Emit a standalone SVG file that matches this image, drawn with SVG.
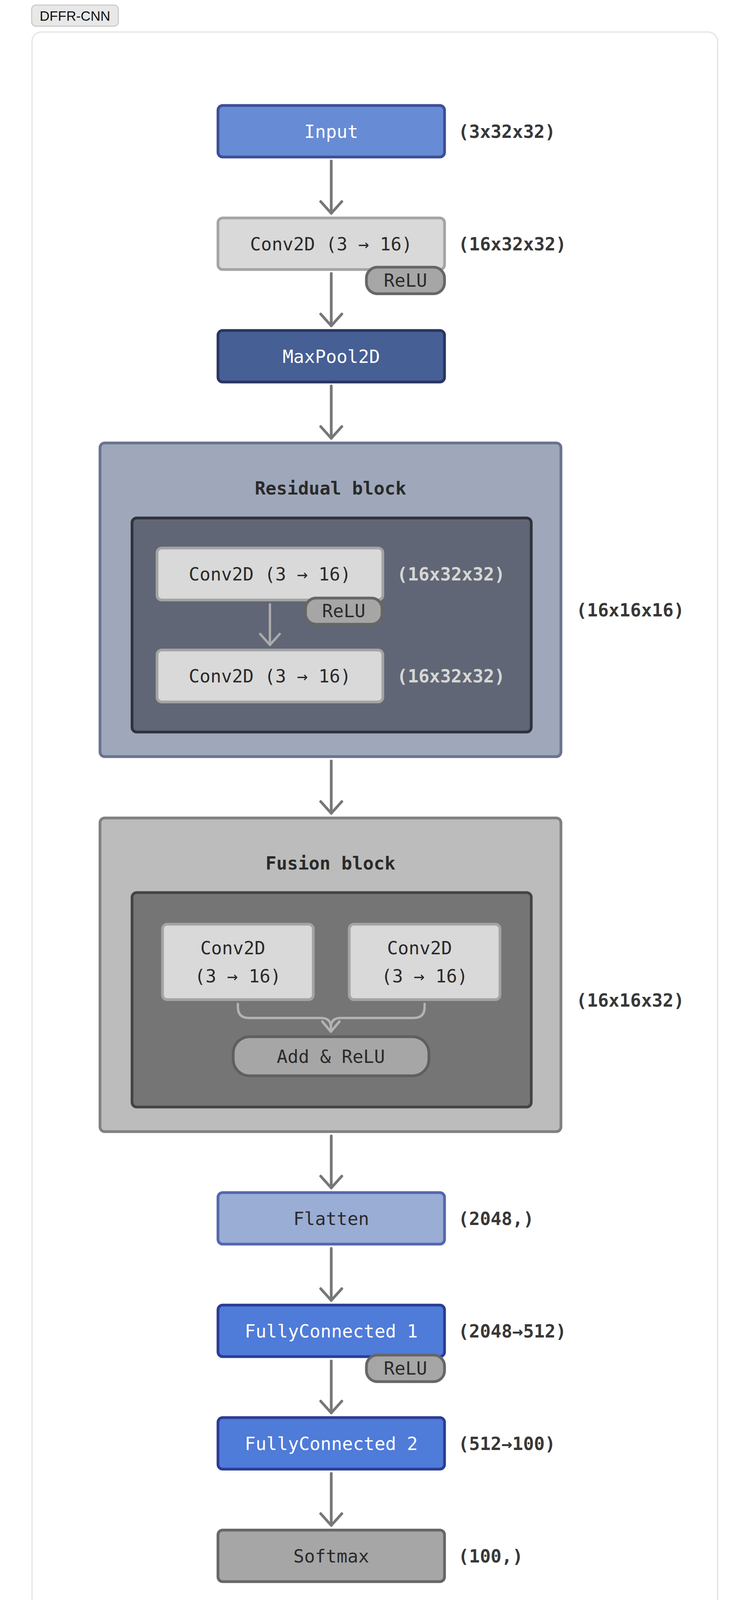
<svg xmlns="http://www.w3.org/2000/svg" width="1920" height="4288" viewBox="0 0 1920 4288">
<style>
.mono{font-family:"DejaVu Sans Mono","Liberation Mono",monospace;font-size:46px;text-anchor:middle}
.lbl{font-family:"DejaVu Sans Mono","Liberation Mono",monospace;font-size:46px;font-weight:bold;fill:#383838}
.lbl-in{font-family:"DejaVu Sans Mono","Liberation Mono",monospace;font-size:46px;font-weight:bold;fill:#d6d6d6}
.dark{fill:#2a2a2a}
.white{fill:#ffffff}
.title{font-weight:bold;fill:#2a2a2a}
.conn{fill:none;stroke:#777777;stroke-width:7;stroke-linecap:round;marker-end:url(#ah)}
.conn-in{fill:none;stroke:#ababab;stroke-width:6;stroke-linecap:round;marker-end:url(#ahl)}
.br{fill:none;stroke:#b3b3b3;stroke-width:6;stroke-linecap:round;stroke-linejoin:round;marker-end:url(#ahb)}
.relu{fill:#a6a6a6;stroke:#666666;stroke-width:7}
.conv{fill:#d9d9d9;stroke:#a4a4a4;stroke-width:7}
</style>
<defs>
<marker id="ah" markerUnits="userSpaceOnUse" markerWidth="80" markerHeight="80" refX="0" refY="0" orient="auto" overflow="visible">
<path d="M-30,-27 L0,0 L-30,27" fill="none" stroke="#777777" stroke-width="7" stroke-linecap="round" stroke-linejoin="round"/>
</marker>
<marker id="ahl" markerUnits="userSpaceOnUse" markerWidth="80" markerHeight="80" refX="0" refY="0" orient="auto" overflow="visible">
<path d="M-28,-25 L0,0 L-28,25" fill="none" stroke="#ababab" stroke-width="6" stroke-linecap="round" stroke-linejoin="round"/>
</marker>
<marker id="ahb" markerUnits="userSpaceOnUse" markerWidth="80" markerHeight="80" refX="0" refY="0" orient="auto" overflow="visible">
<path d="M-26,-22 L0,0 L-26,22" fill="none" stroke="#b3b3b3" stroke-width="6" stroke-linecap="round" stroke-linejoin="round"/>
</marker>
</defs>
<rect width="1920" height="4288" fill="#ffffff"/>
<g id="tag">
<rect x="81" y="13" width="222" height="54" rx="11" fill="#e8e8e8" stroke="#c6c6c6" stroke-width="2.5"/>
<text x="192" y="53" font-family="'Liberation Sans',Arial,sans-serif" font-size="35" text-anchor="middle" fill="#111111">DFFR-CNN</text>
</g>
<rect id="frame" x="82" y="82" width="1755" height="4123" rx="24" fill="#ffffff" stroke="#e4e4e4" stroke-width="3"/>

<g id="input">
<rect x="558" y="270" width="580" height="132" rx="12" fill="#678bd4" stroke="#3c4d9a" stroke-width="7"/>
<text class="mono white" x="848" y="353">Input</text>
<text class="lbl" x="1173" y="353">(3x32x32)</text>
</g>
<g id="conv1">
<rect class="conv" x="558" y="558" width="580" height="132" rx="12"/>
<text class="mono dark" x="848" y="641">Conv2D (3 → 16)</text>
<text class="lbl" x="1173" y="641">(16x32x32)</text>
<rect class="relu" x="938" y="684" width="200" height="68" rx="28"/>
<text class="mono dark" x="1038" y="734">ReLU</text>
</g>
<g id="maxpool">
<rect x="558" y="846" width="580" height="132" rx="12" fill="#465f94" stroke="#2a3563" stroke-width="7"/>
<text class="mono white" x="848" y="929">MaxPool2D</text>
</g>
<g id="residual">
<rect x="256" y="1134" width="1180" height="803" rx="12" fill="#9ea8ba" stroke="#68738e" stroke-width="7"/>
<text class="mono title" x="846" y="1266">Residual block</text>
<rect x="338" y="1326" width="1022" height="548" rx="12" fill="#606675" stroke="#2f323b" stroke-width="7"/>
<g id="res-conv1">
<rect class="conv" x="402" y="1403" width="578" height="133" rx="12"/>
<text class="mono dark" x="691" y="1486">Conv2D (3 → 16)</text>
<text class="lbl-in" x="1016" y="1486">(16x32x32)</text>
<rect class="relu" x="782" y="1531" width="196" height="67" rx="27"/>
<text class="mono dark" x="880" y="1580">ReLU</text>
</g>
<g id="res-conv2">
<rect class="conv" x="402" y="1664" width="578" height="133" rx="12"/>
<text class="mono dark" x="691" y="1747">Conv2D (3 → 16)</text>
<text class="lbl-in" x="1016" y="1747">(16x32x32)</text>
</g>
<path class="conn-in" d="M691 1547 V1651"/>
<text class="lbl" x="1475" y="1578">(16x16x16)</text>
</g>
<g id="fusion">
<rect x="256" y="2094" width="1180" height="803" rx="12" fill="#bcbcbc" stroke="#808080" stroke-width="7"/>
<text class="mono title" x="846" y="2226">Fusion block</text>
<rect x="338" y="2285" width="1022" height="549" rx="12" fill="#757575" stroke="#444444" stroke-width="7"/>
<g id="fus-conv-a">
<rect class="conv" x="416" y="2366" width="386" height="193" rx="12"/>
<text class="mono dark" x="596" y="2443">Conv2D</text>
<text class="mono dark" x="609" y="2515">(3 → 16)</text>
</g>
<g id="fus-conv-b">
<rect class="conv" x="894" y="2366" width="386" height="193" rx="12"/>
<text class="mono dark" x="1074" y="2443">Conv2D</text>
<text class="mono dark" x="1087" y="2515">(3 → 16)</text>
</g>
<path class="br" d="M609 2570 V2578 Q609 2606 637 2606 H822 Q847 2606 847 2630 V2641"/>
<path class="br" d="M1087 2570 V2578 Q1087 2606 1059 2606 H872 Q847 2606 847 2630 V2641"/>
<g id="add-relu">
<rect x="597" y="2654" width="501" height="100" rx="42" fill="#a6a6a6" stroke="#5f5f5f" stroke-width="7"/>
<text class="mono dark" x="847" y="2721">Add &amp; ReLU</text>
</g>
<text class="lbl" x="1475" y="2577">(16x16x32)</text>
</g>
<g id="flatten">
<rect x="558" y="3053" width="580" height="132" rx="12" fill="#9aadd5" stroke="#5367ad" stroke-width="7"/>
<text class="mono dark" x="848" y="3136">Flatten</text>
<text class="lbl" x="1173" y="3136">(2048,)</text>
</g>
<g id="fc1">
<rect x="558" y="3341" width="580" height="132" rx="12" fill="#4f7bd9" stroke="#2b3c96" stroke-width="7"/>
<text class="mono white" x="848" y="3424">FullyConnected 1</text>
<text class="lbl" x="1173" y="3424">(2048→512)</text>
<rect class="relu" x="938" y="3469" width="200" height="68" rx="28"/>
<text class="mono dark" x="1038" y="3519">ReLU</text>
</g>
<g id="fc2">
<rect x="558" y="3629" width="580" height="132" rx="12" fill="#4f7bd9" stroke="#2b3c96" stroke-width="7"/>
<text class="mono white" x="848" y="3712">FullyConnected 2</text>
<text class="lbl" x="1173" y="3712">(512→100)</text>
</g>
<g id="softmax">
<rect x="558" y="3917" width="580" height="132" rx="12" fill="#a6a6a6" stroke="#666666" stroke-width="7"/>
<text class="mono dark" x="848" y="4000">Softmax</text>
<text class="lbl" x="1173" y="4000">(100,)</text>
</g>

<g id="connectors">
<path class="conn" d="M848 412 V546"/>
<path class="conn" d="M848 700 V834"/>
<path class="conn" d="M848 988 V1122"/>
<path class="conn" d="M848 1948 V2082"/>
<path class="conn" d="M848 2908 V3041"/>
<path class="conn" d="M848 3196 V3329"/>
<path class="conn" d="M848 3484 V3617"/>
<path class="conn" d="M848 3772 V3905"/>
</g>
</svg>
